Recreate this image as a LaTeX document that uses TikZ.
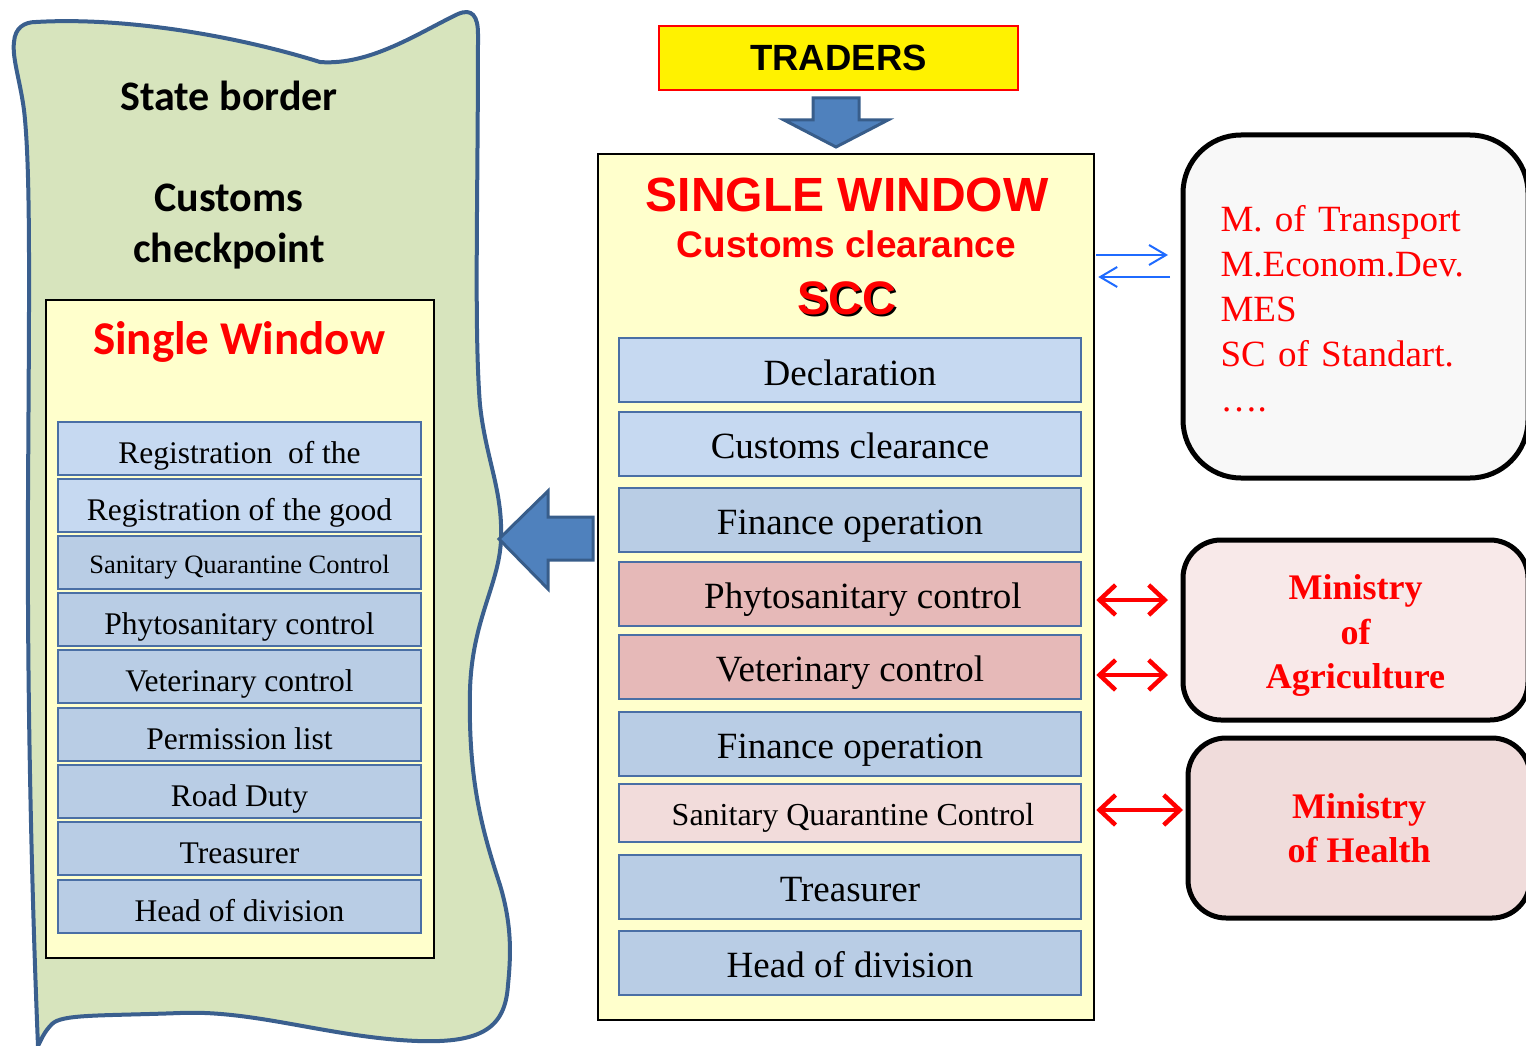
\documentclass[tikz,border=0pt]{standalone}
\usepackage{fontspec}
\setmainfont{Liberation Serif}
\newfontfamily\arialfont{Liberation Sans}
\newfontfamily\calibrifont{Carlito}
\usetikzlibrary{positioning,arrows.meta}
\definecolor{bordergreen}{HTML}{D7E4BD}
\definecolor{borderline}{HTML}{3A5F8E}
\definecolor{paleyellow}{HTML}{FFFFCC}
\definecolor{lightrow}{HTML}{C6D9F1}
\definecolor{bluerow}{HTML}{B9CDE5}
\definecolor{pinkrow}{HTML}{E6B9B8}
\definecolor{palepink}{HTML}{F2DCDB}
\definecolor{rowline}{HTML}{4A6FA5}
\definecolor{arrowfill}{HTML}{4F81BD}
\definecolor{arrowline}{HTML}{385D8A}
\definecolor{linkblue}{HTML}{1F6BFF}
\definecolor{agrifill}{HTML}{F8E9E9}
\definecolor{healthfill}{HTML}{F0DCDB}
\definecolor{othersfill}{HTML}{F8F8F8}
\newcommand{\sccfont}{\fontsize{37}{37}\selectfont}
\newcommand{\cpfont}{\fontsize{31.5}{31.5}\selectfont}
\tikzset{
	row/.style={draw=rowline, line width=2pt, inner sep=0pt, text=black},
	sccrow/.style={row, minimum width=462pt, minimum height=64pt, font=\sccfont, text height=34pt, text depth=4pt},
	cprow/.style={row, minimum width=363pt, minimum height=53pt, font=\cpfont, text height=31pt, text depth=2pt},
	window/.style={draw=black, fill=paleyellow, inner sep=0pt},
	ministry/.style={draw=black, line width=5pt, rounded corners=38pt, text=red, align=center, inner sep=0pt, minimum width=345pt, minimum height=180pt, font=\fontsize{36}{44.5}\selectfont\bfseries},
	blockarrow/.style={fill=arrowfill, draw=arrowline, line width=3pt, line join=miter},
	redlink/.style={red, line width=4.5pt, {Straight Barb[length=16pt,width=30pt]}-{Straight Barb[length=16pt,width=30pt]}},
	bluelink/.style={linkblue, line width=2pt, -{Straight Barb[length=17pt,width=20pt]}}
}

\begin{document}
\begin{tikzpicture}[x=1pt,y=-1pt]
	\useasboundingbox (0,0) rectangle (1526,1046);
	\clip (0,0) rectangle (1526,1046);

	\draw[fill=bordergreen, draw=borderline, line width=4pt]
		(14,42) .. controls (15,28) and (24,22) .. (36,22)
		.. controls (120,17) and (230,34) .. (320,62)
		.. controls (370,66) and (420,32) .. (458,14)
		.. controls (472,8) and (478,16) .. (478,34)
		.. controls (478,200) and (474,330) .. (480,405)
		.. controls (486,460) and (503,490) .. (501,540)
		.. controls (499,585) and (472,620) .. (470,690)
		.. controls (468,780) and (482,830) .. (500,885)
		.. controls (512,925) and (511,955) .. (508,985)
		.. controls (505,1030) and (480,1046) .. (400,1040)
		.. controls (320,1034) and (250,1010) .. (180,1013)
		.. controls (100,1016) and (62,1014) .. (52,1024)
		.. controls (44,1032) and (41,1040) .. (38,1046)
		.. controls (32,900) and (27,700) .. (28,500)
		.. controls (29,300) and (31,170) .. (24,110)
		.. controls (20,80) and (12,58) .. cycle;

	\node[font=\calibrifont\fontsize{42}{51}\selectfont\bfseries] (state) at (229,96) {State border};
	\node[font=\calibrifont\fontsize{42}{51}\selectfont\bfseries, align=center] (checkpoint) at (229,227) {Customs\\checkpoint};

	\node[window, line width=2pt, minimum width=388pt, minimum height=658pt] (cp) at (240,629) {};
	\node[font=\calibrifont\fontsize{47}{47}\selectfont\bfseries, text=red] (cptitle) at (239,342) {Single Window};

	\node[cprow, fill=lightrow] (cpreg) at (239.5,448.5) {Registration\ \ of the};
	\node[cprow, fill=lightrow] (cpgood) at (239.5,505.5) {Registration of the good};
	\node[cprow, fill=bluerow, font=\fontsize{26.5}{26.5}\selectfont, text height=24pt, text depth=3pt] (cpsan) at (239.5,562.5) {Sanitary Quarantine Control};
	\node[cprow, fill=bluerow] (cpphyto) at (239.5,619.5) {Phytosanitary control};
	\node[cprow, fill=bluerow] (cpvet) at (239.5,676.5) {Veterinary control};
	\node[cprow, fill=bluerow] (cpperm) at (239.5,734.5) {Permission list};
	\node[cprow, fill=bluerow] (cproad) at (239.5,791.5) {Road Duty};
	\node[cprow, fill=bluerow] (cptreas) at (239.5,848.5) {Treasurer};
	\node[cprow, fill=bluerow] (cphead) at (239.5,906.5) {Head of division};

	\node[draw=red, line width=2pt, fill=yellow, minimum width=359pt, minimum height=64pt, inner sep=0pt, font=\arialfont\fontsize{36.5}{36.5}\selectfont\bfseries] (traders) at (838.5,58) {TRADERS};
	\draw[blockarrow] (813,98) -- (859,98) -- (859,120) -- (888,120) -- (836,147) -- (784,120) -- (813,120) -- cycle;

	\node[window, line width=2.5pt, minimum width=496pt, minimum height=866pt] (sw) at (846,587) {};
	\node[font=\arialfont\fontsize{48}{48}\selectfont\bfseries, text=red] (swtitle) at (847,195) {SINGLE WINDOW};
	\node[font=\arialfont\fontsize{37}{37}\selectfont\bfseries, text=red] (swsub) at (846.5,244.5) {Customs clearance};
	\node[font=\arialfont\fontsize{47}{47}\selectfont\bfseries, text=black] (sccshadow) at (849,300) {SCC};
	\node[font=\arialfont\fontsize{47}{47}\selectfont\bfseries, text=red] (scc) at (847,298) {SCC};

	\node[sccrow, fill=lightrow] (decl) at (850,370) {Declaration};
	\node[sccrow, fill=lightrow] (clear) at (850,443.5) {Customs clearance};
	\node[sccrow, fill=bluerow] (fin) at (850,519.5) {Finance operation};
	\node[sccrow, fill=pinkrow] (phyto) at (850,593.5) {\hspace*{26pt}Phytosanitary control};
	\node[sccrow, fill=pinkrow] (vet) at (850,666.5) {Veterinary control};
	\node[sccrow, fill=bluerow] (fin2) at (850,743.5) {Finance operation};
	\node[sccrow, fill=palepink, minimum height=58pt, font=\fontsize{32}{32}\selectfont, text height=27pt, text depth=3pt] (san) at (850,813) {\hspace*{6pt}Sanitary Quarantine Control};
	\node[sccrow, fill=bluerow] (treas) at (850,886.5) {Treasurer};
	\node[sccrow, fill=bluerow] (head) at (850,962.5) {Head of division};

	\draw[blockarrow] (593,517) -- (593,560) -- (548,560) -- (548,589) -- (499,539) -- (548,491) -- (548,517) -- cycle;

	\node[draw=black, line width=5pt, rounded corners=58pt, fill=othersfill, minimum width=345pt, minimum height=343pt, text width=270pt, inner sep=0pt, align=left, text=red, font=\fontsize{37}{45}\selectfont] (others) at (1355.5,306.5) {\rule{0pt}{30pt}M. of Transport\\M.Econom.Dev.\\MES\\SC of Standart.\\….};
	\node[ministry, fill=agrifill] (agri) at (1355.5,630) {\rule{0pt}{36pt}Ministry\\of\\Agriculture};
	\node[ministry, fill=healthfill, minimum width=342pt] (health) at (1359,828) {Ministry\\of Health};

	\coordinate (lnkup) at (1140,255);
	\coordinate (lnkdn) at (1140,277);
	\coordinate (lnkphyto) at (1140,600);
	\coordinate (lnkvet) at (1140,675);
	\coordinate (lnksan) at (1140,810);
	\draw[bluelink, shorten <=1pt, shorten >=12.5pt] (sw.east |- lnkup) -- (others.west |- lnkup);
	\draw[bluelink, shorten <=10.5pt, shorten >=3pt] (others.west |- lnkdn) -- (sw.east |- lnkdn);

	\draw[redlink, shorten <=1pt, shorten >=12.5pt] (sw.east |- lnkphyto) -- (agri.west |- lnkphyto);
	\draw[redlink, shorten <=1pt, shorten >=12.5pt] (sw.east |- lnkvet) -- (agri.west |- lnkvet);
	\draw[redlink, shorten <=1pt, shorten >=2.5pt] (sw.east |- lnksan) -- (health.west |- lnksan);
\end{tikzpicture}
\end{document}
